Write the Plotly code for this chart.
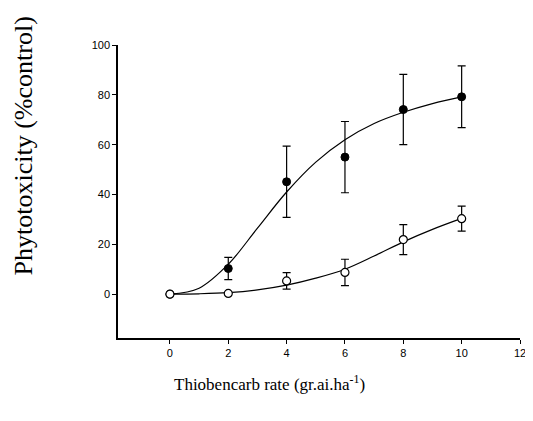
import plotly.graph_objects as go

# Data
rates = [0, 2, 4, 6, 8, 10]
filled_y = [0, 10.3, 45.1, 55.0, 74.1, 79.2]
filled_err = [0, 4.5, 14.3, 14.3, 14.1, 12.4]
open_y = [0, 0.3, 5.3, 8.7, 21.9, 30.3]
open_err = [0, 0, 3.3, 5.3, 6.0, 5.0]

# fitted curves
curve_x = [0, 1, 2, 3, 4, 5, 6, 7, 8, 9, 10]
filled_curve = [0, 2.4, 12.0, 26.5, 41.0, 53.0, 62.0, 68.5, 73.0, 76.5, 79.2]
open_curve = [0, 0.15, 0.6, 1.7, 3.6, 6.4, 10.0, 15.3, 21.0, 26.0, 30.4]

x_ticks = [0, 2, 4, 6, 8, 10, 12]
y_ticks = [0, 20, 40, 60, 80, 100]

fig = go.Figure()
fig.add_trace(go.Scatter(x=curve_x, y=filled_curve, mode="lines", line=dict(color="black", width=1.2, shape="spline"), showlegend=False))
fig.add_trace(go.Scatter(x=curve_x, y=open_curve, mode="lines", line=dict(color="black", width=1.2, shape="spline"), showlegend=False))
fig.add_trace(go.Scatter(x=rates, y=filled_y, mode="markers",
                         marker=dict(symbol="circle", size=8, color="black", line=dict(color="black", width=1)),
                         error_y=dict(type="data", array=filled_err, visible=True, color="black", thickness=1.2, width=4),
                         showlegend=False))
fig.add_trace(go.Scatter(x=rates, y=open_y, mode="markers",
                         marker=dict(symbol="circle", size=8, color="white", line=dict(color="black", width=1.2)),
                         error_y=dict(type="data", array=open_err, visible=True, color="black", thickness=1.2, width=4),
                         showlegend=False))

# page has an 8px body margin, so the figure is drawn 8px in from the corner
L, T, R, B = 110, 37, 7, 83
W, H = 525, 413
pw, ph = W - L - R, H - T - B

fig.update_layout(
    width=W, height=H,
    margin=dict(l=L, r=R, t=T, b=B),
    plot_bgcolor="white", paper_bgcolor="white",
    font=dict(family="Liberation Sans, Arial", size=11, color="black"),
    xaxis=dict(range=[-1.78, 12], tickvals=x_ticks, showline=True, linecolor="black", linewidth=1.5,
               ticks="outside", ticklen=4, tickcolor="black", showgrid=False, zeroline=False),
    yaxis=dict(range=[-17.6, 100], tickvals=y_ticks, showline=True, linecolor="black", linewidth=1.5,
               ticks="outside", ticklen=4, tickcolor="black", showgrid=False, zeroline=False),
    annotations=[
        dict(text="Thiobencarb rate (gr.ai.ha<sup>-1</sup>)", xref="paper", yref="paper",
             x=(165 - L) / pw, y=-(375 - (H - B)) / ph,
             xanchor="left", yanchor="middle", showarrow=False,
             font=dict(family="Liberation Serif, Times New Roman", size=17, color="black")),
        dict(text="Phytotoxicity (%control)", xref="paper", yref="paper",
             x=-(L - 14) / pw, y=((H - B) - 138) / ph,
             xanchor="center", yanchor="middle", textangle=-90, showarrow=False,
             font=dict(family="Liberation Serif, Times New Roman", size=26, color="black")),
    ],
)

fig.write_html("out.html")
